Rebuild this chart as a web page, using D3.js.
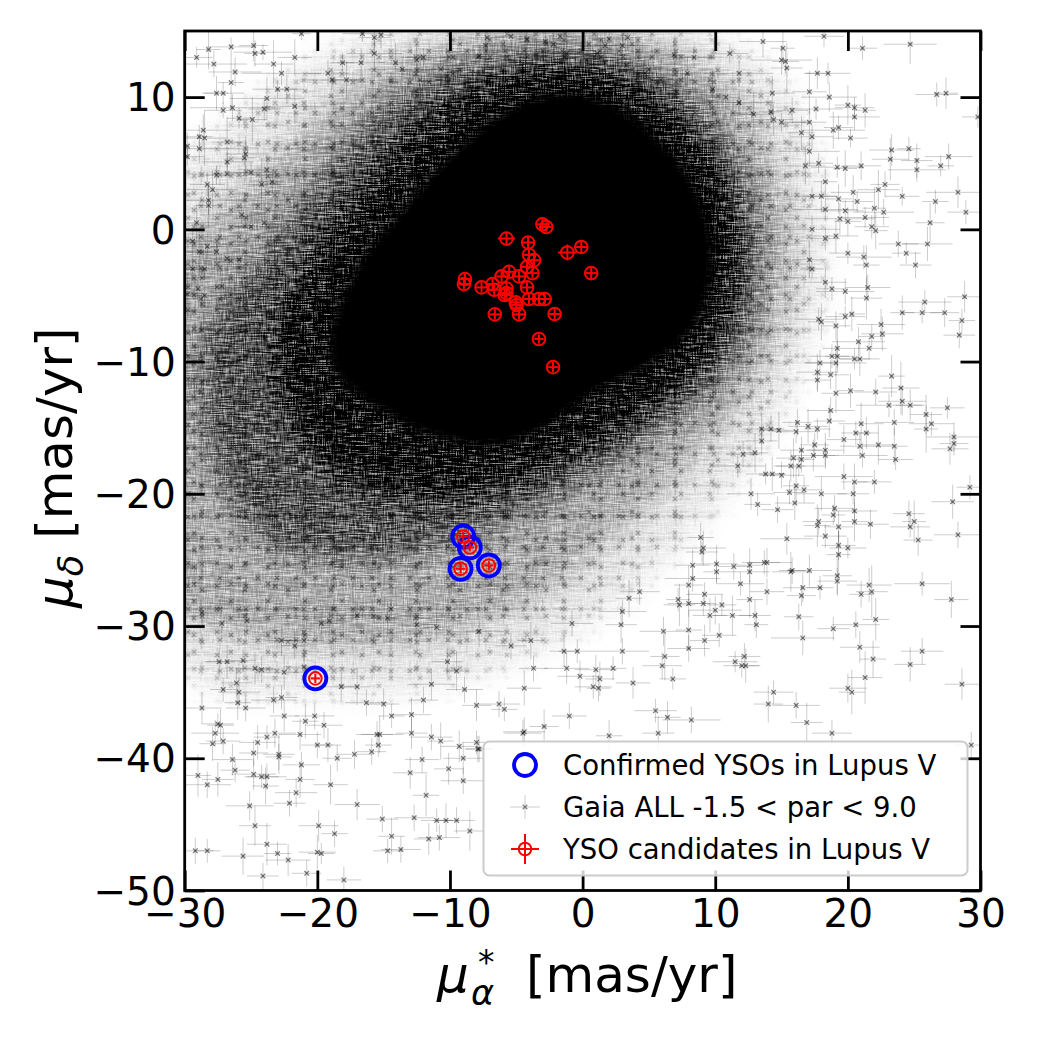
<!DOCTYPE html>
<html><head><meta charset="utf-8">
<script src="https://cdn.jsdelivr.net/npm/d3@7"></script>
<style>body{margin:0;background:#fff}svg{display:block}</style>
</head><body>
<script>
// ---------------- DATA ----------------
const xTicks = [-30, -20, -10, 0, 10, 20, 30];
const yTicks = [-50, -40, -30, -20, -10, 0, 10];
const xDomain = [-30, 30];
const yDomain = [-50, 15];

// YSO candidates (red) : pmra, pmdec, errors
const ysoX    = [-3.03,-2.74,-5.74,-4.11,-1.15,-0.10,-4.04,-3.66,-4.19,-3.78,0.65,-5.54,-6.11,-4.79,-8.87,-8.95,-7.62,-6.79,-6.67,-5.74,-5.87,-5.74,-4.19,-4.04,-3.29,-2.86,-5.04,-4.98,-6.62,-4.79,-2.11,-3.29,-2.23,-9.00,-8.50,-9.20,-7.07,-20.15];
const ysoY    = [0.38,0.18,-0.70,-1.00,-1.75,-1.33,-1.93,-2.33,-2.84,-3.31,-3.31,-3.21,-3.56,-3.56,-3.76,-4.14,-4.39,-4.14,-4.57,-4.47,-4.97,-4.82,-4.39,-5.27,-5.27,-5.27,-5.52,-5.72,-6.43,-6.43,-6.40,-8.29,-10.42,-23.23,-24.06,-25.67,-25.42,-33.96];
const ysoXerr = [0.4,0.4,0.65,0.45,0.7,0.45,0.4,0.4,0.45,0.4,0.45,0.45,0.4,0.45,0.4,0.4,0.45,0.4,0.4,0.5,0.45,0.4,0.45,0.4,0.4,0.4,0.45,0.4,0.4,0.45,0.4,0.35,0.4,0.35,0.3,0.35,0.35,0.35];
const ysoYerr = [0.4,0.35,0.45,0.45,0.6,0.45,0.4,0.4,0.45,0.4,0.45,0.4,0.4,0.4,0.4,0.4,0.4,0.4,0.4,0.5,0.45,0.4,0.4,0.4,0.4,0.4,0.4,0.4,0.4,0.4,0.4,0.35,0.4,0.35,0.3,0.35,0.35,0.35];

// Confirmed YSOs (blue rings)
const confX = [-9.00, -8.50, -9.20, -7.07, -20.15];
const confY = [-23.23, -24.06, -25.67, -25.42, -33.96];

// Gaia field stars: density envelope of the crowded core, read as contours (pmra, pmdec)
const gaiaCore = [[-19,-8],[-17,-3],[-13.5,1.5],[-9.5,6],[-5,9.3],[-1,10.3],[3,9],[6.5,6],[9,2],[9.8,-3],[8.3,-7.5],[4.5,-10.5],[0.5,-12.5],[-3,-15],[-6.5,-16.3],[-11,-15.7],[-15.5,-13.5],[-18.6,-10.8]];
const gaiaDense = [[-23,-8],[-20,-2],[-15.5,4],[-10.5,9],[-4,11.8],[2,11.5],[7,8.5],[10.8,3],[11.5,-3],[10,-8.5],[5.5,-13],[0,-16.5],[-6,-19],[-12,-20],[-18,-18.5],[-22,-13.5]];
const gaiaMid = [[-28.5,-8],[-25,-3],[-20.5,3],[-15,9],[-8,12.8],[0,13.5],[6,11.5],[10.5,7],[13,1],[13,-5],[11,-10.5],[6.5,-14.5],[1.5,-18],[-3.5,-21],[-9.5,-23.5],[-17,-25],[-24,-23.5],[-28,-17]];
const gaiaHalo = [[-31,-3],[-27,1.5],[-22,6.5],[-16,11.5],[-8,14.5],[0,15],[7,13.5],[12,9.5],[15,3],[15.5,-4],[13.5,-10.5],[9,-16.5],[3,-22.5],[-3,-27.5],[-10,-30.5],[-18,-31.5],[-26,-30.5],[-31,-28]];
const gaiaOuter = [[-31,3],[-27,7.5],[-22,11.5],[-16,14.5],[-8,16],[2,16],[10,14.5],[15.5,10],[17.5,4],[18,-3],[16.5,-10],[13,-17],[7.5,-23.5],[2,-28.5],[-4,-32],[-12,-34.5],[-20,-35],[-28,-34.5],[-31,-32]];

// Individually resolved Gaia stars in the sparse outskirts: [pmra, pmdec, err_pmra, err_pmdec]
const gaiaStars = [
[-29.1,13.0,1.2,0.8],[-27.8,12.5,2.5,1.0],[-28.2,13.6,0.9,1.5],[-26.5,13.8,1.8,0.7],[-24.8,13.9,1.1,1.2],[-24.1,13.4,2.2,0.6],[-24.7,13.3,0.8,1.0],[-23.3,12.5,1.5,1.8],[-22.7,11.8,3.0,0.9],[-21.7,13.0,1.3,1.4],[-21.2,14.8,0.7,0.5],[-26.2,11.9,2.0,1.1],[-26.5,11.1,1.0,2.0],[-27.1,10.3,1.6,0.8],[-27.6,10.3,0.9,1.3],[-23.8,9.9,2.8,1.6],[-24.0,9.1,1.2,0.9],[-23.0,10.6,1.9,0.7],[-22.3,10.6,0.8,1.1],[-21.7,9.3,2.4,1.3],[-27.1,9.0,1.4,0.6],[-26.4,9.2,3.2,1.0],[-24.9,8.3,1.1,1.7],[-25.9,8.4,0.9,0.8],[-28.6,7.5,2.1,1.2],[-28.9,7.0,1.0,0.9],[-28.5,6.9,1.7,2.1],[-29.8,6.3,0.8,1.0],[-29.8,5.5,1.3,0.7],[-28.9,6.1,2.6,1.1],[-25.4,5.7,1.5,1.4],[-25.5,5.4,0.9,0.6],[-26.8,6.6,1.2,1.9],[-26.8,5.1,2.0,0.8],[-26.8,4.2,1.1,1.2],[-27.6,4.1,0.8,0.7],[-27.9,3.0,1.9,1.5],[-28.3,3.4,1.3,0.9],[-28.2,2.2,2.7,1.1],[-28.2,1.8,0.9,1.6],[-25.0,4.3,1.6,0.8],[-23.8,4.5,2.2,1.3],[-23.4,3.6,1.0,0.9],[-24.2,3.4,1.4,2.0],[-25.7,1.1,3.1,0.7],[-25.0,0.2,1.2,1.2],[-24.0,0.5,0.8,0.9],[-29.1,0.5,1.7,1.4],[-29.4,-0.9,1.0,0.8],[-28.3,-1.3,2.3,1.0],[-28.9,-1.7,0.9,1.8],[-27.6,-1.7,1.5,0.7],[-26.8,-2.2,1.2,1.1],[-25.9,-2.3,2.0,0.9],[-29.4,-3.0,1.1,1.3],[-28.5,-3.0,2.9,0.8],[-29.0,-4.5,1.4,1.0],[-29.8,-4.9,0.8,1.6],[-28.5,-5.0,1.6,0.9],[-27.2,-4.3,1.0,1.2],
[-19.2,11.8,1.6,1.0],[-18.9,11.3,2.4,0.8],[-17.8,11.3,1.0,1.4],[-16.7,12.6,1.8,1.1],[-18.1,12.6,0.9,0.7],[-15.7,13.3,2.1,1.3],[-15.7,14.5,1.2,0.8],[-16.6,14.8,1.5,0.6],[-15.2,14.7,0.8,1.0],[-14.1,12.6,1.3,1.5],[-13.6,12.1,2.6,0.9],[-12.5,12.8,1.1,1.2],[-12.0,13.0,1.7,0.7],[-10.7,12.1,0.9,1.1],[-10.2,11.6,2.0,1.6],[-7.8,13.1,1.4,0.9],[-7.3,13.9,1.0,1.3],[-7.2,14.5,2.2,0.7],[-5.4,14.6,1.2,1.0],[-4.2,14.4,0.8,0.8],[-2.8,14.2,1.9,1.2],[-2.2,14.0,1.1,0.9],[-3.5,13.2,1.5,1.4],[-1.7,14.6,0.9,0.6],[-1.2,13.3,2.4,1.1],
[2.0,14.4,1.3,0.9],[1.7,13.9,0.9,1.2],[3.0,13.9,2.1,0.8],[3.4,14.5,1.1,1.0],[1.1,13.3,1.6,1.5],[0.3,12.8,0.8,0.9],[1.7,12.6,2.5,1.1],[3.3,12.4,1.2,0.7],[4.7,11.8,1.8,1.3],[5.0,12.1,0.9,0.8],[5.9,11.3,1.4,1.6],[7.1,10.4,2.2,1.0],[7.9,11.8,1.0,1.2],[8.4,13.0,1.6,0.8],[6.9,13.2,0.8,1.1],[9.8,10.6,1.9,1.4],[10.8,10.0,1.1,0.9],[11.8,9.6,2.7,1.0],[12.9,8.7,1.3,1.7],[14.2,8.9,0.9,0.8],[14.4,8.3,1.5,1.2],[15.0,8.1,2.0,0.7],[15.8,9.0,1.2,1.0],[14.3,10.3,1.7,1.3],[15.3,12.7,1.0,0.9],[15.0,12.8,2.3,1.1],
[18.2,14.6,1.5,0.8],[24.7,14.0,2.0,1.5],[21.1,13.7,1.1,0.9],[13.6,14.2,1.8,1.2],[15.1,13.7,0.9,1.4],[11.1,13.3,1.4,0.7],[15.4,12.2,1.2,1.9],[11.8,11.8,2.6,1.0],[17.7,11.8,1.0,1.2],[18.5,11.8,1.7,0.8],[17.1,10.4,1.3,1.6],[26.7,10.2,1.6,0.9],[27.4,10.3,0.9,1.2],[29.8,8.5,1.2,0.8],[18.6,10.0,2.1,1.1],[20.0,9.4,1.0,1.5],[20.5,9.2,1.5,0.8],[21.3,9.0,0.8,1.3],[20.5,8.5,1.9,1.0],[19.3,7.7,1.1,0.9],[18.9,7.5,2.4,1.4],[20.2,6.9,1.3,0.7],[23.3,6.0,1.7,1.2],[24.6,6.1,0.9,0.9],[23.2,5.3,1.4,1.6],[27.6,5.5,1.8,1.0],[27.0,4.8,1.0,0.8],[25.2,5.2,1.2,1.3],[25.2,4.5,2.2,0.9],[21.0,4.8,1.5,1.1],[19.8,4.6,0.9,1.4],[19.2,4.7,2.0,0.8],[22.8,3.4,1.1,1.0],[22.3,3.0,1.6,1.5],[24.1,2.5,1.3,0.7],[28.3,2.8,2.4,1.2],[26.6,2.1,1.0,0.9],[20.4,2.8,1.7,1.3],[20.7,2.1,1.2,0.8],[22.0,1.6,0.9,1.6],[22.7,1.3,2.3,1.0],[28.9,1.3,1.4,0.9],[26.2,0.5,1.1,1.5],[21.3,0.9,1.8,0.8],[20.0,0.6,1.0,1.1],[19.4,0.8,2.6,1.2],[21.8,0.2,1.3,0.9],[22.1,-0.1,0.9,1.4],[23.8,-1.1,1.5,1.0],[24.4,-1.8,1.1,0.8],[26.0,-1.1,1.9,1.3],[25.1,-2.7,1.2,1.0],[21.2,-2.1,2.1,0.9],[21.4,-2.7,1.0,1.5],[20.0,-1.8,1.4,0.8],[28.8,-5.1,1.3,1.2],[25.8,-5.5,2.0,0.9],[27.3,-6.3,1.1,1.1],[25.6,-6.3,1.6,0.8],[24.1,-6.3,0.9,1.3],[21.5,-4.4,1.7,1.0],[21.4,-5.2,1.2,1.6],[28.6,-6.9,1.0,0.9],[22.5,-7.2,1.8,1.2],
[17.1,8.1,1.3,1.0],[17.6,9.1,2.0,0.8],[16.5,7.3,1.0,1.3],[17.3,7.0,1.6,0.9],[17.1,5.9,2.3,1.1],[17.8,5.0,1.1,0.8],[16.8,4.8,1.5,1.4],[18.3,3.6,0.9,1.0],[17.3,2.5,1.9,0.7],[18.0,2.5,1.2,1.2],[18.3,1.5,2.5,0.9],[19.3,2.3,1.0,1.1],[19.8,1.4,1.4,0.8],[19.1,-0.5,1.7,1.3],[18.3,-0.7,1.1,0.9],[17.3,0.0,2.1,1.0],[17.1,-2.3,1.3,1.4],[17.3,-3.0,0.9,0.8],[18.3,-4.0,1.6,1.2],[18.8,-4.5,1.2,0.9],[19.8,-4.7,2.2,1.0],[20.3,-6.4,1.0,1.3],[19.8,-6.6,1.5,0.8],[19.1,-7.3,1.1,1.1],[17.8,-6.8,1.8,0.9],[18.0,-7.0,1.0,1.4],
[28.4,-8.0,1.2,1.0],[22.6,-7.9,1.6,1.3],[21.8,-8.1,1.0,0.9],[20.8,-8.5,2.0,1.1],[21.6,-9.0,1.3,0.8],[19.2,-9.0,1.1,1.5],[18.8,-9.6,1.7,0.9],[19.2,-9.6,0.9,1.2],[19.1,-10.1,2.3,1.0],[20.5,-9.8,1.2,0.8],[20.9,-9.8,1.5,1.3],[23.3,-11.1,1.0,1.6],[24.0,-12.0,1.4,2.0],[24.1,-13.0,1.8,1.1],[23.1,-13.3,2.5,0.9],[24.7,-13.3,1.1,1.2],[27.5,-13.5,1.3,0.8],[22.1,-12.3,1.6,1.0],[20.2,-12.2,1.0,1.3],[25.9,-14.0,1.2,1.5],[26.3,-14.7,1.7,0.9],[25.9,-15.1,0.9,1.8],[23.5,-14.6,1.5,1.0],[28.0,-15.7,2.1,1.1],[28.0,-16.2,1.1,0.9],[27.7,-16.6,1.4,1.2],[23.5,-16.4,1.0,1.4],[23.6,-17.4,1.3,0.8],[21.0,-14.7,1.7,1.6],[20.6,-15.4,1.1,0.9],[21.4,-15.4,0.9,1.2],[20.9,-16.4,1.5,1.0],[22.3,-16.3,1.2,1.5],[21.1,-17.1,1.9,0.9],[19.7,-15.9,1.3,1.1],[29.2,-19.5,1.0,0.9],[27.9,-20.6,1.6,1.3],[24.6,-21.5,1.2,1.0],[25.0,-22.1,0.9,1.6],[24.7,-22.5,1.5,0.8],[25.3,-23.5,1.1,1.2],[28.3,-23.1,1.8,1.0],[22.0,-19.1,1.3,0.9],[20.5,-19.1,1.0,1.4],[19.7,-18.7,2.2,1.0],[20.4,-20.0,1.2,0.8],[21.7,-22.3,1.4,1.1],[20.5,-22.1,1.0,1.5],[20.5,-21.3,1.7,0.9],[19.3,-22.5,1.1,1.2],[19.0,-21.1,1.5,1.0],[18.9,-21.6,0.9,0.8],[18.0,-20.0,1.9,1.3],[17.8,-22.1,1.2,1.0],[17.7,-22.4,1.0,1.6],[18.3,-23.2,1.6,0.9],[19.3,-23.9,1.3,1.1],[19.3,-24.6,0.9,1.8],[20.0,-24.1,1.4,0.8],[15.4,-23.4,2.0,1.2],[19.2,-26.2,1.1,1.5],[19.2,-26.6,1.5,1.0],[17.9,-27.1,1.0,0.9],[21.6,-26.9,1.7,1.3],[21.8,-27.4,1.2,2.0],[21.0,-27.6,0.9,1.0],[25.6,-26.8,2.1,0.9],[27.8,-28.0,1.3,1.4],[22.1,-29.5,1.0,1.6],[20.6,-29.9,1.8,1.0],[18.9,-30.2,1.2,0.9],[16.6,-30.9,2.4,1.3],[16.3,-29.3,1.1,1.0],[20.9,-31.6,1.5,1.2],[21.9,-32.5,1.0,1.4],[21.3,-33.9,1.3,2.0],[25.6,-31.9,1.6,1.0],[24.7,-32.9,1.2,1.3],[20.0,-34.7,1.4,1.1],[20.3,-35.0,1.0,1.7],[28.6,-34.4,1.3,1.2],[14.4,-35.0,1.5,0.9],[14.0,-35.9,1.1,1.4],[16.1,-36.0,1.8,1.0],[16.9,-37.3,1.2,1.5],[5.5,-36.4,1.6,0.9],[6.4,-36.9,1.0,1.2],[8.2,-37.1,2.2,1.0],[12.2,-32.3,1.2,1.0],[11.5,-32.7,1.7,0.8],[12.3,-33.0,1.0,1.3],[12.0,-33.0,1.4,0.9],[9.2,-31.1,1.1,1.2],[8.0,-31.7,1.6,1.0],[8.0,-30.3,1.0,1.5],[10.3,-30.7,1.3,0.9],[6.1,-30.4,1.8,1.1],[6.2,-32.3,1.1,1.8],[6.0,-33.0,1.5,1.0],[6.8,-34.0,1.0,0.8],[3.8,-34.3,1.3,1.2],[3.0,-31.9,2.0,1.0],[2.9,-29.9,1.2,1.4],[2.3,-33.2,1.0,0.9],[1.0,-33.3,1.6,1.1],[1.3,-34.0,1.1,1.3],[0.8,-34.6,1.4,0.9],[1.2,-34.7,0.9,1.0],[-0.2,-33.8,1.7,1.2],[13.9,-27.4,1.3,1.0],[12.6,-28.0,1.0,1.4],[11.9,-26.8,1.8,0.9],[13.0,-29.2,1.2,1.2],[13.1,-29.9,0.9,1.0],[11.3,-29.2,1.5,1.5],[10.5,-28.4,1.1,0.8],[10.0,-28.8,2.0,1.1],[9.6,-29.2,1.3,1.3],[9.1,-28.3,1.0,0.9],[8.0,-28.3,1.6,1.0],[7.3,-28.4,1.2,1.6],[7.2,-28.0,0.9,0.9],[16.6,-27.1,1.5,1.1],[16.5,-27.7,1.1,0.8],[17.1,-25.8,1.7,1.2],[15.8,-25.8,1.0,1.0],[15.7,-25.9,1.4,1.5],[13.7,-25.2,1.2,0.9],[13.9,-25.2,1.9,1.1],[12.6,-25.4,1.0,1.3],[12.6,-25.9,1.5,0.8],[11.4,-25.5,1.1,1.0],[10.1,-25.3,1.6,1.4],[10.1,-25.9,1.0,0.9],[8.3,-25.4,1.3,1.2],[8.3,-26.4,2.1,1.0],[8.0,-26.9,1.1,1.5],[9.2,-27.6,1.4,0.9],[8.9,-23.3,1.0,1.1],[9.1,-24.1,1.7,1.3],[9.0,-24.4,1.2,0.8],[4.3,-27.4,1.5,1.0],[3.5,-27.9,1.0,1.4],[3.0,-28.9,1.8,0.9],
[14.7,-21.2,1.2,1.0],[16.0,-20.7,1.5,1.3],[13.2,-20.8,1.0,0.9],[12.7,-20.0,1.8,1.2],[12.1,-17.0,1.3,1.0],[13.0,-16.9,1.0,1.5],[11.7,-17.9,2.1,0.9],[13.5,-16.0,1.2,1.1],[13.8,-18.5,1.5,0.8],[14.3,-18.5,1.0,1.3],[15.0,-18.6,1.7,1.0],[15.6,-19.9,1.2,0.9],[16.1,-19.4,1.0,1.4],[16.7,-19.7,1.4,1.0],[15.7,-17.9,1.1,1.2],[16.3,-17.9,1.9,0.8],[16.5,-17.4,1.0,1.0],[15.9,-17.3,1.3,1.5],[16.5,-16.7,1.6,1.0],[17.5,-16.3,1.1,0.9],[18.3,-16.7,1.4,1.3],[18.3,-17.1,1.0,1.0],[17.4,-17.1,1.7,1.2],[17.9,-10.1,1.2,1.0],[17.7,-10.8,1.6,1.4],[17.7,-11.4,1.0,0.9],[18.7,-11.0,1.4,1.1],[19.1,-12.4,1.1,1.5],[18.7,-13.7,1.8,1.0],[18.6,-14.5,1.2,1.2],[17.7,-15.1,1.0,0.8],[17.0,-14.9,1.5,1.3],[16.2,-14.6,1.1,1.0],[16.1,-15.3,1.7,0.9],[14.8,-15.2,1.2,1.4],[14.2,-15.1,1.0,1.0],[13.5,-15.1,1.4,1.2],
[-28.7,-36.2,1.5,1.2],[-29.0,-41.3,1.0,1.6],[-28.3,-42.0,1.8,1.0],[-27.5,-41.6,1.2,1.3],[-29.2,-47.0,1.4,1.0],[-28.3,-47.0,1.0,0.9],[-25.6,-47.4,1.6,1.4],[-24.1,-48.9,1.2,1.0],[-23.8,-46.5,1.5,1.6],[-23.0,-47.2,1.0,0.9],[-22.2,-47.7,1.7,1.2],[-20.8,-48.7,1.1,1.0],[-20.0,-47.1,1.4,1.3],[-19.7,-47.2,1.0,0.8],[-18.0,-49.2,1.3,1.0],[-25.1,-43.6,1.8,1.1],[-24.7,-45.1,1.2,1.5],[-23.8,-41.4,1.5,1.0],[-23.9,-42.1,1.0,1.4],[-24.2,-41.4,1.3,0.9],[-24.8,-41.2,1.7,1.2],[-24.8,-39.6,1.1,1.0],[-24.5,-38.8,1.4,1.3],[-23.8,-38.4,1.0,0.9],[-23.2,-38.1,1.6,1.1],[-22.9,-39.7,1.2,1.5],[-22.9,-39.9,1.0,1.0],[-26.4,-40.1,1.5,1.2],[-26.2,-40.9,1.1,0.9],[-27.1,-38.7,1.3,1.0],[-27.9,-38.9,1.0,1.3],[-27.7,-38.1,1.8,1.0],[-27.5,-37.4,1.2,0.8],[-27.3,-37.5,1.0,1.2],[-21.2,-40.5,1.4,1.0],[-21.3,-41.6,1.1,1.4],[-21.6,-42.6,1.6,1.1],[-22.1,-43.4,1.2,1.0],[-19.9,-45.1,1.5,1.2],[-18.7,-45.7,1.0,1.0],[-19.0,-42.0,1.3,1.5],[-18.5,-40.0,1.1,1.0],[-17.0,-43.5,1.7,1.2],[-15.1,-44.6,1.2,1.0],[-14.4,-45.9,1.0,1.4],[-13.7,-46.9,1.5,1.0],[-14.7,-47.0,1.1,0.9],[-21.3,-38.2,1.6,1.2],[-20.0,-39.0,1.2,1.0],[-19.2,-39.0,1.0,1.3],[-17.2,-39.7,1.4,1.1],[-15.9,-39.5,1.1,1.0],[-15.3,-38.2,1.8,1.4],[-15.4,-39.0,1.0,0.9],[-13.0,-41.1,1.3,1.2],[-11.8,-42.8,1.0,1.6],[-12.7,-44.5,1.5,1.0],[-11.6,-46.1,1.1,1.2],[-10.8,-46.0,1.6,1.0],[-11.0,-44.7,1.2,0.9],[-10.3,-44.7,1.0,1.3],[-9.5,-44.7,1.4,1.0],[-10.1,-40.8,1.1,1.2],[-9.0,-41.7,1.7,1.0],[-8.5,-45.5,1.2,1.5],[-7.8,-39.3,1.0,1.0],[-9.0,-40.0,1.5,1.2],[-8.0,-38.8,1.1,0.9],[-12.1,-40.1,1.3,1.0],[-10.7,-38.7,1.0,1.4],[-11.4,-38.4,1.6,1.0],[-12.9,-38.1,1.2,1.2],[-19.5,-37.5,1.4,1.0],[-20.9,-37.2,1.0,1.3],[-20.2,-36.8,1.5,1.0],[-22.5,-36.8,1.1,1.2],[-23.3,-35.6,1.7,1.0],[-22.7,-35.4,1.2,0.9],[-26.0,-35.8,1.0,1.3],[-25.4,-36.2,1.5,1.0],[-26.1,-34.3,1.2,1.2],[-27.1,-34.8,1.0,0.9],[-25.9,-35.0,1.6,1.1],
[-4.5,-38.1,1.4,1.0],[5.7,-38.1,1.2,1.3],[18.8,-38.1,1.5,1.0],[2.0,-38.3,1.0,1.2],[29.3,-39.0,1.3,1.0],
[-28.7,-29.0,1.5,1.0],[-27.2,-29.8,1.1,1.3],[-25.3,-29.6,1.8,0.9],[-22.7,-31.1,1.2,1.2],[-21.7,-31.5,1.0,1.0],[-21.0,-31.1,1.6,1.4],[-19.7,-29.8,1.2,0.9],[-19.1,-29.6,1.0,1.2],[-17.0,-29.2,1.7,1.0],[-14.7,-29.4,1.2,1.3],[-12.5,-29.9,1.5,1.0],[-11.0,-30.1,1.0,1.1],[-7.8,-30.4,1.9,1.2],[-5.4,-31.5,1.2,1.0],[-3.9,-31.1,1.0,1.4],[-0.8,-29.8,1.6,1.0],[-1.4,-31.9,1.1,1.2],[-0.4,-31.9,1.4,0.9],
[-27.4,-32.7,1.2,1.0],[-26.8,-32.7,1.6,1.3],[-25.6,-32.6,1.0,0.9],[-24.7,-33.2,1.4,1.2],[-24.2,-33.3,1.1,1.0],[-22.5,-33.5,1.7,1.3],[-21.0,-33.1,1.2,0.9],
[-18.2,-34.6,1.3,1.1],[-17.0,-34.6,1.0,1.4],[-16.3,-35.8,1.6,1.0],[-15.0,-35.9,1.2,1.2],[-14.4,-36.8,1.0,0.9],[-12.9,-36.7,1.5,1.3],[-12.0,-35.6,1.1,1.0],[-11.4,-34.4,1.8,1.2],[-10.2,-32.7,1.2,1.0],[-9.5,-33.4,1.0,1.5],[-8.9,-34.8,1.4,1.0],[-8.0,-36.0,1.1,1.2],[-6.3,-35.9,1.6,1.0],[-5.9,-36.3,1.0,0.9],[-4.4,-34.7,1.3,1.3],[-3.7,-33.2,1.1,1.0],[-1.2,-33.2,1.7,1.2],
[-15.5,-38.2,1.2,1.0],[-9.3,-39.1,1.4,1.2],[-7.9,-39.3,1.0,1.0],[-4.4,-38.0,1.6,1.1],[-2.9,-37.6,1.1,1.3],[-1.0,-36.8,1.3,1.0]
];

// Legend entries
const legendLabels = ["Confirmed YSOs in Lupus V", "Gaia ALL -1.5 < par < 9.0", "YSO candidates in Lupus V"];

// ---------------- DRAWING ----------------
const W = 1040, H = 1040;
const plot = {left: 184.7, right: 980.5, top: 31, bottom: 890.5};
const x = d3.scaleLinear().domain(xDomain).range([plot.left, plot.right]);
const y = d3.scaleLinear().domain(yDomain).range([plot.bottom, plot.top]);
const pw = plot.right - plot.left, ph = plot.bottom - plot.top;

const svg = d3.select("body").append("svg").attr("width", W).attr("height", H)
  .style("font-family", "'DejaVu Sans', sans-serif");
svg.append("rect").attr("width", W).attr("height", H).attr("fill", "#fff");

const defs = svg.append("defs");
defs.append("clipPath").attr("id", "plotClip").append("rect")
  .attr("x", plot.left).attr("y", plot.top).attr("width", pw).attr("height", ph);

// grainy texture filter for the crowded field (horizontal + vertical streak noise)
const fl = defs.append("filter").attr("id", "grain").attr("filterUnits", "userSpaceOnUse")
  .attr("x", plot.left).attr("y", plot.top).attr("width", pw).attr("height", ph);
fl.append("feGaussianBlur").attr("in", "SourceGraphic").attr("stdDeviation", 13).attr("result", "b");
fl.append("feTurbulence").attr("type", "fractalNoise").attr("baseFrequency", "0.06 0.9")
  .attr("numOctaves", 2).attr("seed", 7).attr("result", "nh");
fl.append("feTurbulence").attr("type", "fractalNoise").attr("baseFrequency", "0.9 0.09")
  .attr("numOctaves", 2).attr("seed", 3).attr("result", "nv");
fl.append("feComposite").attr("in", "nh").attr("in2", "nv").attr("operator", "arithmetic")
  .attr("k1", 0).attr("k2", 0.6).attr("k3", 0.4).attr("k4", 0).attr("result", "n");
fl.append("feColorMatrix").attr("in", "n").attr("type", "matrix")
  .attr("values", "0 0 0 0 0  0 0 0 0 0  0 0 0 0 0  3.2 0 0 0 -1.0").attr("result", "na");
fl.append("feComposite").attr("in", "b").attr("in2", "na").attr("operator", "arithmetic")
  .attr("k1", 1.2).attr("k2", 0.45).attr("k3", 0).attr("k4", 0);

const fl2 = defs.append("filter").attr("id", "soft")
  .attr("x", "-20%").attr("y", "-20%").attr("width", "140%").attr("height", "140%");
fl2.append("feGaussianBlur").attr("stdDeviation", 5);
const fl3 = defs.append("filter").attr("id", "softBig").attr("filterUnits", "userSpaceOnUse")
  .attr("x", plot.left).attr("y", plot.top).attr("width", pw).attr("height", ph);
fl3.append("feGaussianBlur").attr("stdDeviation", 14);

// cross-shaped star texture (marker + error bars) used where stars overlap
const patSpecs = [
  {id: "pA", w: 29, h: 23, cx: 14, cy: 11, hx: 13, vy: 7},
  {id: "pB", w: 37, h: 17, cx: 9,  cy: 6,  hx: 16, vy: 5},
  {id: "pC", w: 19, h: 31, cx: 11, cy: 20, hx: 8,  vy: 10},
  {id: "pD", w: 43, h: 26, cx: 30, cy: 18, hx: 20, vy: 8}
];
patSpecs.forEach(p => {
  const pt = defs.append("pattern").attr("id", p.id).attr("patternUnits", "userSpaceOnUse")
    .attr("width", p.w).attr("height", p.h);
  pt.append("path").attr("d", `M${p.cx - p.hx},${p.cy}H${p.cx + p.hx}M${p.cx},${p.cy - p.vy}V${p.cy + p.vy}`)
    .attr("stroke", "#000").attr("stroke-opacity", 0.22).attr("stroke-width", 1);
  pt.append("path").attr("d", `M${p.cx-2.3},${p.cy-2.3}L${p.cx+2.3},${p.cy+2.3}M${p.cx-2.3},${p.cy+2.3}L${p.cx+2.3},${p.cy-2.3}`)
    .attr("stroke", "#000").attr("stroke-opacity", 0.5).attr("stroke-width", 1.3);
});

const closedLine = d3.line().x(d => x(d[0])).y(d => y(d[1])).curve(d3.curveCatmullRomClosed.alpha(0.5));
const haloLevels = [gaiaOuter, gaiaHalo, gaiaMid, gaiaDense];

// mask of star density for the cross texture
const mk = defs.append("mask").attr("id", "densMask").attr("maskUnits", "userSpaceOnUse")
  .attr("x", plot.left).attr("y", plot.top).attr("width", pw).attr("height", ph);
const mkG = mk.append("g").attr("filter", "url(#softBig)");
const maskAlpha = [0.55, 0.5, 0.5, 0.5];
haloLevels.forEach((poly, i) => {
  mkG.append("path").attr("d", closedLine(poly)).attr("fill", "#fff").attr("fill-opacity", maskAlpha[i]);
});

const field = svg.append("g").attr("clip-path", "url(#plotClip)");
const texG = field.append("g").attr("mask", "url(#densMask)");
patSpecs.forEach(p => {
  texG.append("rect").attr("x", plot.left).attr("y", plot.top).attr("width", pw).attr("height", ph)
    .attr("fill", `url(#${p.id})`);
});

const haloG = field.append("g").attr("filter", "url(#grain)");
const haloAlpha = [0.08, 0.2, 0.38, 0.68];
haloLevels.forEach((poly, i) => {
  haloG.append("path").attr("d", closedLine(poly)).attr("fill", "#000").attr("fill-opacity", haloAlpha[i]);
});
field.append("path").attr("d", closedLine(gaiaCore)).attr("fill", "#000").attr("filter", "url(#soft)");
field.append("path").attr("d", closedLine(gaiaCore)).attr("fill", "#000")
  .attr("transform", `translate(${x(-4)},${y(-3)}) scale(0.96) translate(${-x(-4)},${-y(-3)})`);

// individual Gaia stars with error bars
const starG = field.append("g");
starG.selectAll("line.ex").data(gaiaStars).join("line")
  .attr("x1", d => x(d[0] - d[2])).attr("x2", d => x(d[0] + d[2]))
  .attr("y1", d => y(d[1])).attr("y2", d => y(d[1]))
  .attr("stroke", "#000").attr("stroke-opacity", 0.2).attr("stroke-width", 1);
starG.selectAll("line.ey").data(gaiaStars).join("line")
  .attr("x1", d => x(d[0])).attr("x2", d => x(d[0]))
  .attr("y1", d => y(d[1] - d[3])).attr("y2", d => y(d[1] + d[3]))
  .attr("stroke", "#000").attr("stroke-opacity", 0.2).attr("stroke-width", 1);
const xm = 2.3;
starG.selectAll("path.m").data(gaiaStars).join("path")
  .attr("d", d => { const cx = x(d[0]), cy = y(d[1]);
    return `M${cx-xm},${cy-xm}L${cx+xm},${cy+xm}M${cx-xm},${cy+xm}L${cx+xm},${cy-xm}`; })
  .attr("stroke", "#000").attr("stroke-opacity", 0.5).attr("stroke-width", 1.3).attr("fill", "none");

// confirmed YSOs (blue rings)
field.selectAll("circle.conf").data(confX.map((v, i) => [v, confY[i]])).join("circle")
  .attr("cx", d => x(d[0])).attr("cy", d => y(d[1])).attr("r", 11)
  .attr("fill", "none").attr("stroke", "#0000ff").attr("stroke-width", 3.8);

// YSO candidates (red errorbars)
const ysoData = ysoX.map((v, i) => ({x: v, y: ysoY[i], ex: ysoXerr[i], ey: ysoYerr[i]}));
const ysoG = field.append("g");
ysoG.selectAll("line.rx").data(ysoData).join("line")
  .attr("x1", d => x(d.x - d.ex)).attr("x2", d => x(d.x + d.ex))
  .attr("y1", d => y(d.y)).attr("y2", d => y(d.y))
  .attr("stroke", "#ff0000").attr("stroke-width", 2);
ysoG.selectAll("line.ry").data(ysoData).join("line")
  .attr("x1", d => x(d.x)).attr("x2", d => x(d.x))
  .attr("y1", d => y(d.y - d.ey)).attr("y2", d => y(d.y + d.ey))
  .attr("stroke", "#ff0000").attr("stroke-width", 2);
ysoG.selectAll("circle").data(ysoData).join("circle")
  .attr("cx", d => x(d.x)).attr("cy", d => y(d.y)).attr("r", 6.3)
  .attr("fill", "none").attr("stroke", "#ff0000").attr("stroke-width", 2);

// ---------- axes ----------
const tickLen = 20, tickW = 2.8, fontTick = 39;
const axG = svg.append("g");
const fmt = d => d3.format("d")(d).replace("-", "\u2212");
const xAxisB = d3.axisBottom(x).tickValues(xTicks).tickSize(-tickLen).tickPadding(9).tickFormat(fmt);
const xAxisT = d3.axisTop(x).tickValues(xTicks).tickSize(-tickLen).tickFormat("");
const yAxisL = d3.axisLeft(y).tickValues(yTicks).tickSize(-tickLen).tickPadding(9).tickFormat(fmt);
const yAxisR = d3.axisRight(y).tickValues(yTicks).tickSize(-tickLen).tickFormat("");

function styleAxis(g) {
  g.select(".domain").remove();
  g.selectAll(".tick line").attr("stroke", "#000").attr("stroke-width", tickW);
  g.selectAll(".tick text").attr("fill", "#000").style("font-size", fontTick + "px")
    .style("font-family", "'DejaVu Sans', sans-serif");
}
axG.append("g").attr("transform", `translate(0,${plot.bottom})`).call(xAxisB).call(styleAxis)
  .selectAll(".tick text").attr("dy", "0.71em").attr("y", 9);
axG.append("g").attr("transform", `translate(0,${plot.top})`).call(xAxisT).call(styleAxis);
axG.append("g").attr("transform", `translate(${plot.left},0)`).call(yAxisL).call(styleAxis)
  .selectAll(".tick text").attr("x", -9).attr("dy", "0.35em");
axG.append("g").attr("transform", `translate(${plot.right},0)`).call(yAxisR).call(styleAxis);

// frame
svg.append("rect").attr("x", plot.left).attr("y", plot.top).attr("width", pw).attr("height", ph)
  .attr("fill", "none").attr("stroke", "#000").attr("stroke-width", 2.8);

// axis labels
const xl = svg.append("text").attr("x", 437).attr("y", 992).style("font-size", "50px").attr("fill", "#000");
xl.append("tspan").text("\u03bc").style("font-style", "italic");
xl.append("tspan").text("*").attr("x", 478).attr("dy", -18).style("font-size", "33px");
xl.append("tspan").text("\u03b1").attr("x", 471).attr("dy", 31).style("font-size", "35px").style("font-style", "italic");
xl.append("tspan").text("[mas/yr]").attr("x", 526).attr("dy", -13);

const yl = svg.append("text").attr("transform", "translate(72,608) rotate(-90)").style("font-size", "50px").attr("fill", "#000");
yl.append("tspan").text("\u03bc").style("font-style", "italic");
yl.append("tspan").text("\u03b4").attr("dy", 11).style("font-size", "35px").style("font-style", "italic");
yl.append("tspan").text(" [mas/yr]").attr("dy", -11);

// ---------- legend ----------
const lg = svg.append("g");
lg.append("rect").attr("x", 483.5).attr("y", 741.5).attr("width", 484).attr("height", 134)
  .attr("rx", 6).attr("fill", "#fff").attr("fill-opacity", 0.8)
  .attr("stroke", "#cccccc").attr("stroke-width", 2);
const lgX = 525, lgTextX = 563, lgRows = [765, 807, 849];
lg.append("circle").attr("cx", lgX).attr("cy", lgRows[0]).attr("r", 11)
  .attr("fill", "none").attr("stroke", "#0000ff").attr("stroke-width", 3.8);
lg.append("line").attr("x1", lgX - 15).attr("x2", lgX + 15).attr("y1", lgRows[1]).attr("y2", lgRows[1])
  .attr("stroke", "#000").attr("stroke-opacity", 0.2).attr("stroke-width", 1);
lg.append("line").attr("x1", lgX).attr("x2", lgX).attr("y1", lgRows[1] - 12).attr("y2", lgRows[1] + 12)
  .attr("stroke", "#000").attr("stroke-opacity", 0.2).attr("stroke-width", 1);
lg.append("path").attr("d", `M${lgX-xm},${lgRows[1]-xm}L${lgX+xm},${lgRows[1]+xm}M${lgX-xm},${lgRows[1]+xm}L${lgX+xm},${lgRows[1]-xm}`)
  .attr("stroke", "#000").attr("stroke-opacity", 0.45).attr("stroke-width", 1.3);
lg.append("line").attr("x1", lgX - 14).attr("x2", lgX + 14).attr("y1", lgRows[2]).attr("y2", lgRows[2])
  .attr("stroke", "#ff0000").attr("stroke-width", 2);
lg.append("line").attr("x1", lgX).attr("x2", lgX).attr("y1", lgRows[2] - 15).attr("y2", lgRows[2] + 15)
  .attr("stroke", "#ff0000").attr("stroke-width", 2);
lg.append("circle").attr("cx", lgX).attr("cy", lgRows[2]).attr("r", 6.3)
  .attr("fill", "none").attr("stroke", "#ff0000").attr("stroke-width", 2);
lg.selectAll("text").data(legendLabels).join("text")
  .attr("x", lgTextX).attr("y", (d, i) => lgRows[i] + 9.5)
  .style("font-size", "27.5px").attr("fill", "#000").text(d => d);
</script>
</body></html>
